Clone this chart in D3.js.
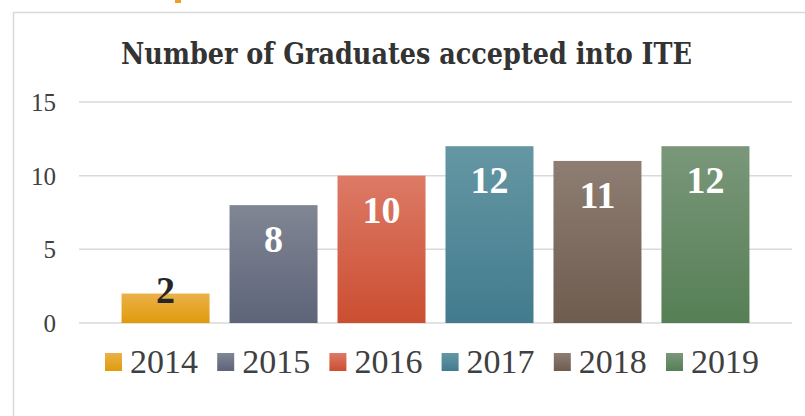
<!DOCTYPE html>
<html><head><meta charset="utf-8">
<script src="https://cdn.jsdelivr.net/npm/d3@7"></script>
<style>html,body{margin:0;padding:0;background:#fff;overflow:hidden}</style>
</head><body>
<svg id="c" width="805" height="416"></svg>
<script>
const years = ["2014","2015","2016","2017","2018","2019"];
const values = [2, 8, 10, 12, 11, 12];
const yTicks = [0, 5, 10, 15];
const colorsTop = ["#EBB149","#808693","#DD7A66","#6597A3","#8E7D72","#7A977A"];
const colorsBottom = ["#E09B0B","#5E6479","#CB4E31","#427B8E","#6E5C4F","#567F55"];
const title = "Number of Graduates accepted into ITE";

const svg = d3.select("#c");
const defs = svg.append("defs");
years.forEach((y,i)=>{
  const g = defs.append("linearGradient").attr("id","g"+i).attr("x1",0).attr("y1",0).attr("x2",0).attr("y2",1);
  g.append("stop").attr("offset","0%").attr("stop-color",colorsTop[i]);
  g.append("stop").attr("offset","100%").attr("stop-color",colorsBottom[i]);
});

// chart border
svg.append("path").attr("d","M13.5,416 V12.5 H805").attr("fill","none").attr("stroke","#D9D9D9").attr("stroke-width",1.5);
// cut-off orange glyph above chart
svg.append("rect").attr("x",175).attr("y",0).attr("width",6).attr("height",3).attr("fill","#E9A21F");

const x = d3.scaleBand().domain(years).range([79,792]).paddingInner(0.185).paddingOuter(0.394);
const y = d3.scaleLinear().domain([0,15]).range([323,102]);

// gridlines
svg.append("g").selectAll("line").data(yTicks).join("line")
  .attr("x1",79).attr("x2",792).attr("y1",d=>y(d)).attr("y2",d=>y(d))
  .attr("stroke","#D9D9D9").attr("stroke-width",1.5);

// y axis labels
const yAxis = d3.axisLeft(y).tickValues(yTicks).tickSize(0).tickPadding(0);
const ya = svg.append("g").attr("transform","translate(56,0)").call(yAxis);
ya.select(".domain").remove();
ya.selectAll("text").attr("font-family","'Liberation Serif',serif").attr("font-size",25).attr("fill","#404040").attr("dy","0.34em");

// bars
svg.append("g").selectAll("rect").data(values).join("rect")
  .attr("x",(d,i)=>x(years[i])).attr("width",x.bandwidth())
  .attr("y",d=>y(d)).attr("height",d=>y(0)-y(d))
  .attr("fill",(d,i)=>`url(#g${i})`);

// value labels
svg.append("g").selectAll("text").data(values).join("text")
  .attr("x",(d,i)=>x(years[i])+x.bandwidth()/2)
  .attr("y",d=>Math.min(y(d)+47, y(0)-20))
  .attr("text-anchor","middle")
  .attr("font-family","'Liberation Serif',serif").attr("font-weight","bold").attr("font-size",38)
  .attr("fill",d=>(y(0)-y(d))<60?"#262626":"#FFFFFF")
  .text(d=>d);

// title
svg.append("text").attr("x",406.5).attr("y",64).attr("text-anchor","middle")
  .attr("font-family","'DejaVu Serif',serif").attr("font-stretch","condensed").attr("font-weight","bold").attr("font-size",30)
  .attr("fill","#333333").attr("textLength",571).attr("lengthAdjust","spacingAndGlyphs")
  .text(title);

// legend
const lx = d3.scaleBand().domain(years).range([105,105+112.2*6]);
const lg = svg.append("g").selectAll("g").data(years).join("g")
  .attr("transform",d=>`translate(${lx(d)},0)`);
lg.append("rect").attr("x",0).attr("y",353).attr("width",17).attr("height",18).attr("fill",(d,i)=>`url(#g${i})`);
lg.append("text").attr("x",25).attr("y",373).attr("font-family","'Liberation Serif',serif").attr("font-size",34)
  .attr("fill","#404040").text(d=>d);
</script>
</body></html>
